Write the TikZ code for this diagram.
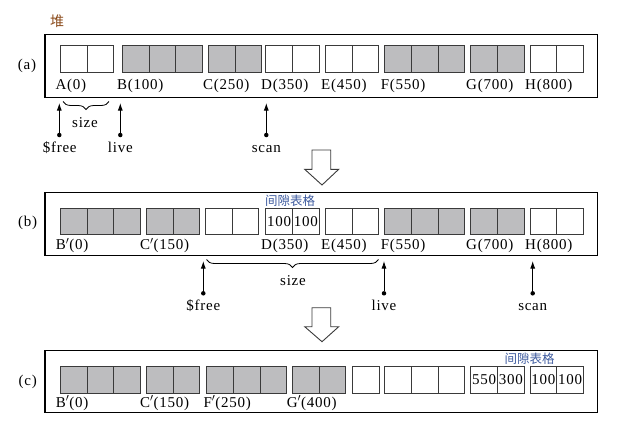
\documentclass[tikz,border=0pt]{standalone}
\usepackage{fontspec}
\setmainfont{Liberation Serif}[LetterSpace=5]
\newfontfamily\cjk{Noto Sans CJK SC}
\usetikzlibrary{arrows.meta,decorations.pathreplacing}
\definecolor{grayf}{HTML}{BDBDBF}
\definecolor{cellc}{HTML}{3A3A3A}
\definecolor{heapc}{HTML}{8A4A1A}
\definecolor{gapc}{HTML}{3D5A9E}
\newcommand\blk[5]{%
  \foreach \i in {1,...,#4}{\node[#5] (#1-\i) at ({#2+(\i-1)*26.7},#3) {};}}
\begin{document}
\begin{tikzpicture}[x=1pt,y=-1pt,
  cell/.style={draw=cellc,line width=0.8pt,minimum width=26.7pt,minimum height=26.7pt,inner sep=0pt,outer sep=0pt,anchor=north west},
  gcell/.style={cell,fill=grayf},
  wcell/.style={cell,fill=white},
  panel/.style={draw=black,line width=1.2pt},
  lab/.style={inner sep=0pt,font=\fontsize{15}{17}\selectfont,anchor=base west},
  plab/.style={inner sep=0pt,font=\fontsize{15}{17}\selectfont,anchor=base},
  num/.style={inner sep=0pt,font=\fontsize{15}{17}\selectfont},
  gap/.style={inner sep=0pt,font=\cjk\fontsize{12.5}{14}\selectfont,text=gapc},
  dotn/.style={circle,fill=black,inner sep=0pt,minimum size=4.5pt},
  ptr/.style={line width=0.9pt,-{Latex[length=7.5pt,width=5pt]}},
  brc/.style={decorate,decoration={brace,amplitude=8pt,mirror},line width=0.8pt},
  bigarrow/.style={draw=cellc,line width=0.9pt,fill=white,line join=miter}
]
\useasboundingbox (0,0) rectangle (630,429);
% ---------- (a)
\node[inner sep=0pt,font=\cjk\fontsize{14}{16}\selectfont,text=heapc] (heap) at (57,21) {堆};
\node[inner sep=0pt,font=\fontsize{15}{17}\selectfont] (la) at (27,66) {(a)};
\draw[panel] (45,34.7) rectangle (597.5,97.7);
\blk{aA}{60.3}{45.3}{2}{wcell}
\blk{aB}{122.3}{45.3}{3}{gcell}
\blk{aC}{208.3}{45.3}{2}{gcell}
\blk{aD}{265.7}{45.3}{2}{wcell}
\blk{aE}{325.3}{45.3}{2}{wcell}
\blk{aF}{384.7}{45.3}{3}{gcell}
\blk{aG}{470.7}{45.3}{2}{gcell}
\blk{aH}{530}{45.3}{2}{wcell}
\node[lab] (tA) at (55.3,89.3) {A(0)};
\node[lab] (tB) at (117,89.3) {B(100)};
\node[lab] (tC) at (203,89.3) {C(250)};
\node[lab] (tD) at (261,89.3) {D(350)};
\node[lab] (tE) at (321,89.3) {E(450)};
\node[lab] (tF) at (380.7,89.3) {F(550)};
\node[lab] (tG) at (466,89.3) {G(700)};
\node[lab] (tH) at (525,89.3) {H(800)};
\coordinate (abl) at (63,101.5);
\coordinate (abr) at (109,101.5);
\draw[brc] (abl) -- (abr);
\node[num] (asz) at (85,123) {size};
\node[dotn] (afree) at (59.3,135) {};
\coordinate (afree-t) at (59.3,103);
\draw[ptr] (afree) -- (afree-t);
\node[plab] (afreet) at (59.7,152.5) {\$free};
\node[dotn] (alive) at (120.3,135) {};
\coordinate (alive-t) at (120.3,103);
\draw[ptr] (alive) -- (alive-t);
\node[plab] (alivet) at (120.3,152.5) {live};
\node[dotn] (ascan) at (266.3,135) {};
\coordinate (ascan-t) at (266.3,103);
\draw[ptr] (ascan) -- (ascan-t);
\node[plab] (ascant) at (266.3,152.5) {scan};
% big arrow 1
\draw[bigarrow] (312,150) -- (330.7,150) -- (330.7,169.3) -- (338.7,169.3) -- (322,185) -- (304.7,169.3) -- (312,169.3) -- cycle;
% ---------- (b)
\node[inner sep=0pt,font=\fontsize{15}{17}\selectfont] (lb) at (27.7,223.3) {(b)};
\draw[panel] (45,192.7) rectangle (597.5,255.7);
\blk{bB}{60.3}{208}{3}{gcell}
\blk{bC}{146.3}{208}{2}{gcell}
\blk{bW}{205.3}{208}{2}{wcell}
\node[wcell,font=\fontsize{15}{17}\selectfont] (bD-1) at (265.7,208) {100};
\node[wcell,font=\fontsize{15}{17}\selectfont] (bD-2) at (292.4,208) {100};
\blk{bE}{325.3}{208}{2}{wcell}
\blk{bF}{384.7}{208}{3}{gcell}
\blk{bG}{470.7}{208}{2}{gcell}
\blk{bH}{530}{208}{2}{wcell}
\node[gap] (bgap) at (290,201) {间隙表格};
\node[lab] (uB) at (55.7,249.5) {B$'$(0)};
\node[lab] (uC) at (140,249.5) {C$'$(150)};
\node[lab] (uD) at (261,249.5) {D(350)};
\node[lab] (uE) at (321,249.5) {E(450)};
\node[lab] (uF) at (380.7,249.5) {F(550)};
\node[lab] (uG) at (466,249.5) {G(700)};
\node[lab] (uH) at (525,249.5) {H(800)};
\coordinate (bbl) at (206.5,259.5);
\coordinate (bbr) at (378.5,259.5);
\draw[brc] (bbl) -- (bbr);
\node[num] (bsz) at (293,281) {size};
\node[dotn] (bfree) at (203.3,293.3) {};
\coordinate (bfree-t) at (203.3,261);
\draw[ptr] (bfree) -- (bfree-t);
\node[plab] (bfreet) at (203.3,310.5) {\$free};
\node[dotn] (blive) at (384,293.3) {};
\coordinate (blive-t) at (384,261);
\draw[ptr] (blive) -- (blive-t);
\node[plab] (blivet) at (384,310.5) {live};
\node[dotn] (bscan) at (532.7,293.3) {};
\coordinate (bscan-t) at (532.7,261);
\draw[ptr] (bscan) -- (bscan-t);
\node[plab] (bscant) at (532.7,310.5) {scan};
% big arrow 2
\draw[bigarrow] (312,307.7) -- (330.7,307.7) -- (330.7,326.7) -- (338.7,326.7) -- (322,341.7) -- (304.7,326.7) -- (312,326.7) -- cycle;
% ---------- (c)
\node[inner sep=0pt,font=\fontsize{15}{17}\selectfont] (lc) at (27.7,381.7) {(c)};
\draw[panel] (45,350.7) rectangle (597.5,412.7);
\blk{cB}{60.3}{366.7}{3}{gcell}
\blk{cC}{146.3}{366.7}{2}{gcell}
\blk{cF}{206.7}{366.7}{3}{gcell}
\blk{cG}{292.3}{366.7}{2}{gcell}
\blk{cS}{352.3}{366.7}{1}{wcell}
\blk{cT}{384.7}{366.7}{3}{wcell}
\node[wcell,font=\fontsize{15}{17}\selectfont] (cP-1) at (470.7,366.7) {550};
\node[wcell,font=\fontsize{15}{17}\selectfont] (cP-2) at (497.4,366.7) {300};
\node[wcell,font=\fontsize{15}{17}\selectfont] (cQ-1) at (530,366.7) {100};
\node[wcell,font=\fontsize{15}{17}\selectfont] (cQ-2) at (556.7,366.7) {100};
\node[gap] (cgap) at (529.5,358.7) {间隙表格};
\node[lab] (vB) at (55.7,407) {B$'$(0)};
\node[lab] (vC) at (140,407) {C$'$(150)};
\node[lab] (vF) at (203.3,407) {F$'$(250)};
\node[lab] (vG) at (286.7,407) {G$'$(400)};
\end{tikzpicture}
\end{document}
